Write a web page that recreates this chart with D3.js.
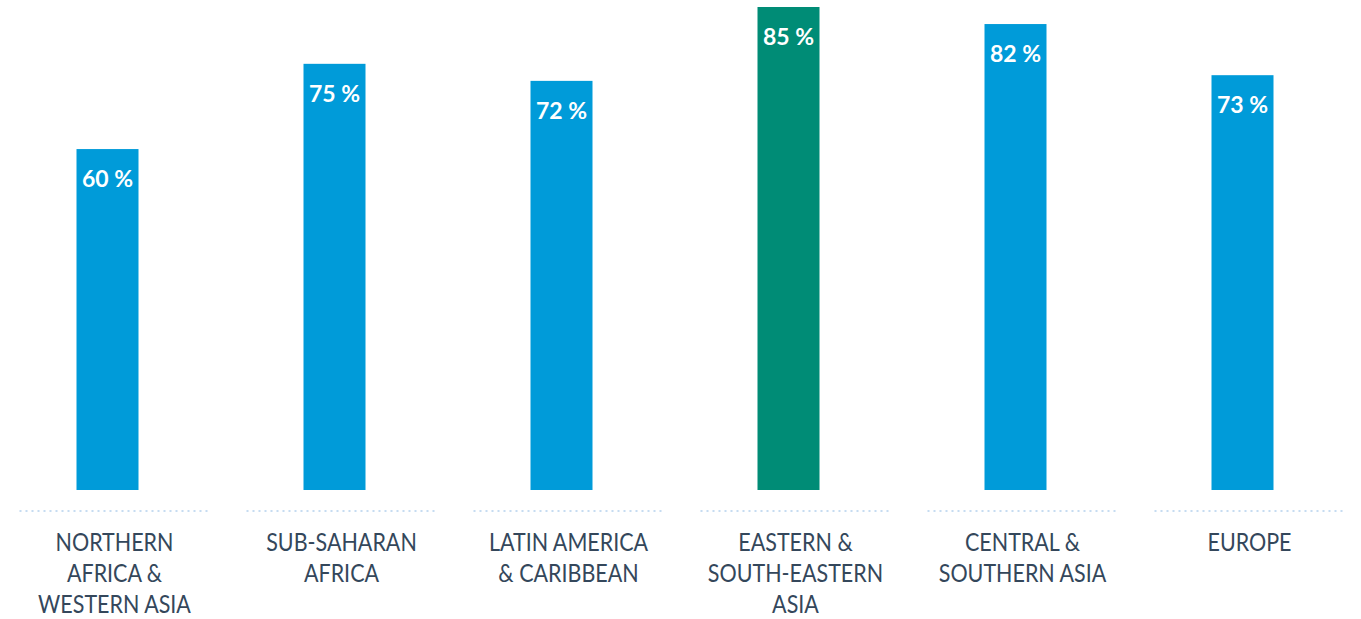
<!DOCTYPE html>
<html><head><meta charset="utf-8">
<script src="https://cdn.jsdelivr.net/npm/d3@7"></script>
<style>body{margin:0;background:#fff;}svg{display:block;}</style>
</head><body>
<svg id="c" width="1361" height="619"></svg>
<script>
const categories = ["NORTHERN|AFRICA &|WESTERN ASIA","SUB-SAHARAN|AFRICA","LATIN AMERICA|& CARIBBEAN","EASTERN &|SOUTH-EASTERN|ASIA","CENTRAL &|SOUTHERN ASIA","EUROPE"];
const values = [60,75,72,85,82,73];
const highlight = [false,false,false,true,false,false];

const svg = d3.select("#c");
const x = d3.scaleBand().domain(categories).range([1,1363]).padding(0);
const y = d3.scaleLinear().domain([0,85]).range([490,7]);
const barW = 62;

svg.selectAll("rect.bar").data(categories).join("rect")
  .attr("x", d => x(d) + x.bandwidth()/2 - 7 - barW/2)
  .attr("y", (d,i) => y(values[i]))
  .attr("width", barW)
  .attr("height", (d,i) => y(0) - y(values[i]))
  .attr("fill", (d,i) => highlight[i] ? "#008c76" : "#009bd9");

svg.selectAll("text.val").data(categories).join("text")
  .attr("x", d => x(d) + x.bandwidth()/2 - 7)
  .attr("y", (d,i) => y(values[i]) + 38)
  .attr("text-anchor","middle")
  .attr("fill","#fff")
  .attr("font-family","Lato, 'Open Sans', sans-serif")
  .attr("font-weight","700")
  .attr("font-size","23px")
  .text((d,i) => values[i] + " %");

svg.selectAll("line.sep").data(categories).join("line")
  .attr("x1", d => x(d) + x.bandwidth()/2 - 95)
  .attr("x2", d => x(d) + x.bandwidth()/2 + 95)
  .attr("y1", 511).attr("y2", 511)
  .attr("stroke","#c6dcf1").attr("stroke-width",2)
  .attr("stroke-dasharray","2,4");

const lab = svg.selectAll("text.lab").data(categories).join("text")
  .attr("text-anchor","middle")
  .attr("fill","#34475b")
  .attr("font-family","Lato, sans-serif")
  .attr("font-weight","400")
  .attr("font-size","25px")
  .attr("transform", d => `translate(${x(d)+x.bandwidth()/2},551) scale(0.86,1)`);
lab.selectAll("tspan").data(d => d.split("|")).join("tspan")
  .attr("x",0).attr("dy",(d,i)=> i===0 ? 0 : 31).text(d=>d);
</script>
</body></html>
